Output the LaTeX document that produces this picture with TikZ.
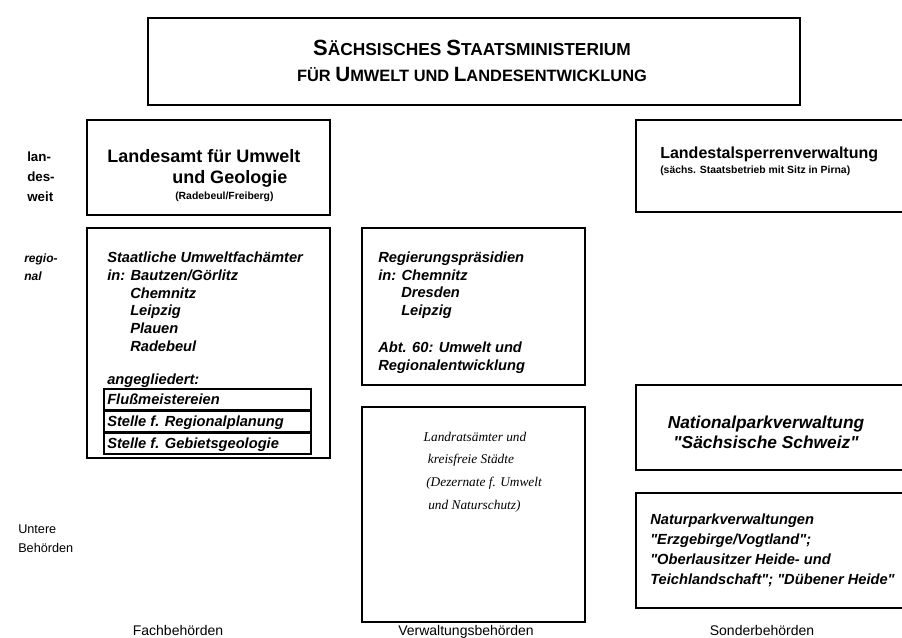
\documentclass[tikz,border=0pt]{standalone}
\usepackage{fontspec}
\setmainfont{Liberation Sans}
\newfontfamily\serifit{Liberation Serif}
\usetikzlibrary{fit}
\newcommand\BigC[1]{{\fontsize{16.5}{18}\selectfont #1}}
\newcommand\qd{\textquotedbl}
\begin{document}
\begin{tikzpicture}[x=0.75pt,y=-0.75pt,
  thickbox/.style={draw, line width=2pt, inner sep=0pt},
  midbox/.style={draw, line width=1.6pt, inner sep=0pt},
  thinbox/.style={draw, line width=1.1pt, inner sep=0pt},
  titletxt/.style={inner sep=0pt, font=\bfseries\fontsize{13}{15}\selectfont},
  headtxt/.style={anchor=base west, inner sep=0pt, font=\bfseries\fontsize{13.5}{15}\selectfont},
  headtxtb/.style={anchor=base west, inner sep=0pt, font=\bfseries\fontsize{12}{14}\selectfont},
  smalltxt/.style={anchor=base west, inner sep=0pt, font=\bfseries\fontsize{7.8}{9}\selectfont},
  sidetxt/.style={anchor=base west, inner sep=0pt, font=\bfseries\fontsize{10}{12}\selectfont},
  sideit/.style={anchor=base west, inner sep=0pt, font=\bfseries\itshape\fontsize{9}{11}\selectfont},
  ittxt/.style={anchor=base west, inner sep=0pt, font=\bfseries\itshape\fontsize{11}{13}\selectfont},
  bigit/.style={anchor=base, inner sep=0pt, font=\bfseries\itshape\fontsize{13}{15}\selectfont},
  sertxt/.style={anchor=base, inner sep=0pt, font=\serifit\itshape\fontsize{10}{12}\selectfont},
  plaintxt/.style={anchor=base west, inner sep=0pt, font=\fontsize{9.5}{11}\selectfont},
  coltxt/.style={anchor=base, inner sep=0pt, font=\fontsize{10.5}{12}\selectfont},
]
\path[use as bounding box] (0,0) rectangle (902,637);
\clip (0,0) rectangle (902,637);

% boxes
\node[midbox, fit={(148,18) (800,105)}] (smul) {};
\node[thickbox, fit={(87,120) (330,215)}] (lfug) {};
\node[thickbox, fit={(636,120) (906,212)}] (ltv) {};
\node[thinbox, fit={(87,228) (330,458)}] (stufa) {};
\node[thinbox, fit={(362,228) (585,385)}] (rp) {};
\node[thinbox, fit={(362,407) (585,622)}] (lra) {};
\node[thinbox, fit={(636,385) (906,470)}] (npv) {};
\node[thinbox, fit={(636,493) (906,608)}] (nparkv) {};
\node[thinbox, fit={(104,389) (311,410)}] (fm) {};
\node[thinbox, fit={(104,411) (311,432)}] (srp) {};
\node[thinbox, fit={(104,433) (311,454)}] (sgg) {};

% title
\node[titletxt] (t1) at (472,48) {\BigC{S}ÄCHSISCHES \BigC{S}TAATSMINISTERIUM};
\node[titletxt, font=\bfseries\fontsize{12.3}{15}\selectfont] (t2) at (472,74) {FÜR {\fontsize{15.5}{17}\selectfont U}MWELT UND {\fontsize{15.5}{17}\selectfont L}ANDESENTWICKLUNG};

% side labels
\node[sidetxt] (s1) at (27,161) {lan-};
\node[sidetxt] (s2) at (27,181) {des-};
\node[sidetxt] (s3) at (27,201) {weit};
\node[sideit] (r1) at (24,262) {regio-};
\node[sideit] (r2) at (24,280) {nal};
\node[plaintxt] (u1) at (18,533) {Untere};
\node[plaintxt] (u2) at (18,552) {Behörden};

% Landesamt
\node[headtxt] (l1) at (107,162) {Landesamt für Umwelt};
\node[headtxt] (l2) at (172,183) {und Geologie};
\node[smalltxt] (l3) at (175,199) {(Radebeul/Freiberg)};

% Landestalsperrenverwaltung
\node[headtxtb] (v1) at (660,158) {Landestalsperrenverwaltung};
\node[smalltxt] (v2) at (660,173) {(sächs. Staatsbetrieb mit Sitz in Pirna)};

% Staatliche Umweltfachaemter
\node[ittxt] (a1) at (107,262) {Staatliche Umweltfachämter};
\node[ittxt] (a2) at (107,280) {in: Bautzen/Görlitz};
\node[ittxt] (a3) at (130,298) {Chemnitz};
\node[ittxt] (a4) at (130,315) {Leipzig};
\node[ittxt] (a5) at (130,333) {Plauen};
\node[ittxt] (a6) at (130,351) {Radebeul};
\node[ittxt] (a7) at (107,384) {angegliedert:};
\node[ittxt] (a8) at (107,404) {Flußmeistereien};
\node[ittxt] (a9) at (107,426) {Stelle f. Regionalplanung};
\node[ittxt] (a10) at (107,448) {Stelle f. Gebietsgeologie};

% Regierungspraesidien
\node[ittxt] (b1) at (378,262) {Regierungspräsidien};
\node[ittxt] (b2) at (378,280) {in: Chemnitz};
\node[ittxt] (b3) at (401,297) {Dresden};
\node[ittxt] (b4) at (401,315) {Leipzig};
\node[ittxt] (b5) at (378,352) {Abt. 60: Umwelt und};
\node[ittxt] (b6) at (378,370) {Regionalentwicklung};

% Landratsaemter
\node[sertxt] (c1) at (475,441) {Landratsämter und};
\node[sertxt] (c2) at (471,463) {kreisfreie Städte};
\node[sertxt, anchor=base west] (c3) at (426,486) {(Dezernate f. Umwelt};
\node[sertxt, anchor=base west] (c4) at (428,509) {und Naturschutz)};

% Nationalpark
\node[bigit] (d1) at (766,428) {Nationalparkverwaltung};
\node[bigit] (d2) at (766,448) {\qd Sächsische Schweiz\qd};

% Naturpark
\node[ittxt] (e1) at (650,524) {Naturparkverwaltungen};
\node[ittxt] (e2) at (650,544) {\qd Erzgebirge/Vogtland\qd;};
\node[ittxt] (e3) at (650,564) {\qd Oberlausitzer Heide- und};
\node[ittxt] (e4) at (650,584) {Teichlandschaft\qd; \qd Dübener Heide\qd};

% column labels
\node[coltxt] (f1) at (178,635) {Fachbehörden};
\node[coltxt] (f2) at (466,635) {Verwaltungsbehörden};
\node[coltxt] (f3) at (762,635) {Sonderbehörden};
\end{tikzpicture}
\end{document}
